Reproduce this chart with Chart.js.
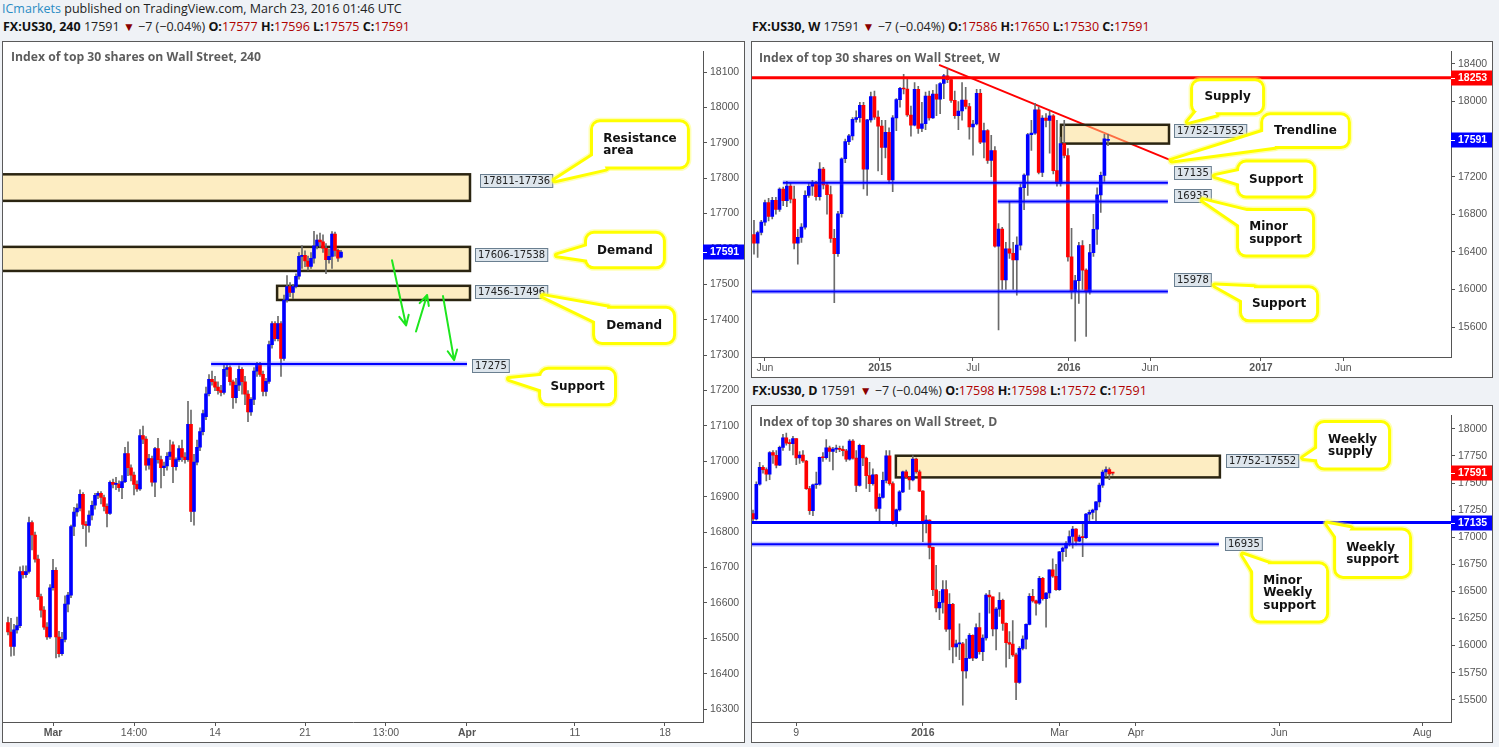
<!DOCTYPE html>
<html>
<head>
<meta charset="utf-8">
<title>US30 – 240 / W / D</title>
<script src="https://cdn.jsdelivr.net/npm/chart.js@4.4.1/dist/chart.umd.min.js"></script>
<style>
  body { margin:0; width:1499px; height:747px; background:#eff2f6; position:relative; overflow:hidden; font-family:"Open Sans","Noto Sans",sans-serif; }
  .box { position:absolute; border:1px solid #5a5a5a; background:#fff; }
  .box canvas { position:absolute; left:0; top:0; }
  .hdr { position:absolute; font-size:12.5px; line-height:16px; white-space:nowrap; color:#222; }
  .hdr b { color:#111; }
  .hdr .r { color:#b00000; }
  .hdr .tri { color:#8b0000; font-size:12px; }
  .ttl { position:absolute; font-weight:bold; font-size:12.2px; line-height:16px; color:#5d5d5d; white-space:nowrap; }
</style>
</head>
<body>

<div class="hdr" style="left:2px;top:1px"><span style="color:#2b8cc4">ICmarkets</span> published on TradingView.com, March 23, 2016 01:46 UTC</div>
<div class="hdr" style="left:3px;top:19px"><b>FX:US30, 240</b> 17591 <span class="tri">▼</span> −7 (−0.04%) <b>O:</b><span class="r">17577</span> <b>H:</b><span class="r">17596</span> <b>L:</b><span class="r">17575</span> <b>C:</b><span class="r">17591</span></div>
<div class="hdr" style="left:752px;top:19px"><b>FX:US30, W</b> 17591 <span class="tri">▼</span> −7 (−0.04%) <b>O:</b><span class="r">17586</span> <b>H:</b><span class="r">17650</span> <b>L:</b><span class="r">17530</span> <b>C:</b><span class="r">17591</span></div>
<div class="hdr" style="left:752px;top:383px"><b>FX:US30, D</b> 17591 <span class="tri">▼</span> −7 (−0.04%) <b>O:</b><span class="r">17598</span> <b>H:</b><span class="r">17598</span> <b>L:</b><span class="r">17572</span> <b>C:</b><span class="r">17591</span></div>

<div class="box" style="left:2px;top:41px;width:741px;height:700px">
  <canvas id="c4h" width="741" height="700"></canvas>
  <div class="ttl" style="left:8px;top:7px">Index of top 30 shares on Wall Street, 240</div>
</div>
<div class="box" style="left:751px;top:41px;width:740px;height:335px">
  <canvas id="cw" width="740" height="335"></canvas>
  <div class="ttl" style="left:7px;top:8px">Index of top 30 shares on Wall Street, W</div>
</div>
<div class="box" style="left:751px;top:405px;width:740px;height:336px">
  <canvas id="cd" width="740" height="336"></canvas>
  <div class="ttl" style="left:7px;top:8px">Index of top 30 shares on Wall Street, D</div>
</div>

<script>
// ---------- 240 (4 h) ----------
const h4Open = [16545,16518,16477,16524,16536,16689,16680,16689,16827,16792,
  16724,16618,16580,16532,16504,16643,16692,16504,16457,16497,
  16597,16622,16816,16857,16868,16907,16822,16819,16848,16876,
  16904,16910,16898,16873,16853,16941,16935,16936,16926,16943,
  17022,16982,16961,16935,16922,17073,17063,16989,17008,16941,
  17036,17005,16982,16987,17014,17047,16985,17005,17036,17012,
  17005,17105,16859,16998,17040,17084,17126,17191,17232,17225,
  17210,17200,17195,17260,17265,17225,17180,17215,17260,17225,
  17190,17140,17175,17255,17273,17246,17198,17226,17330,17389,
  17347,17389,17291,17456,17494,17477,17494,17523,17579,17582,
  17566,17551,17574,17609,17625,17620,17602,17570,17579,17642,
  17596,17577];
const h4High = [16560,16557,16540,16560,16702,16705,16705,16843,16832,16800,
  16735,16625,16590,16545,16652,16723,16700,16520,16517,16620,
  16630,16820,16870,16880,16920,16912,16830,16860,16888,16910,
  16915,16915,16905,16880,16945,16950,16955,16945,16960,17040,
  17055,16990,16970,16945,17090,17100,17070,17020,17015,17040,
  17065,17015,16998,17025,17060,17055,17010,17045,17060,17025,
  17170,17145,17020,17060,17095,17145,17210,17245,17255,17240,
  17225,17215,17275,17275,17270,17230,17235,17270,17265,17240,
  17200,17180,17265,17280,17280,17255,17235,17340,17395,17395,
  17410,17395,17470,17525,17505,17500,17530,17590,17610,17595,
  17580,17590,17650,17640,17645,17640,17615,17600,17649,17648,
  17600,17596];
const h4Low = [16510,16450,16452,16515,16530,16670,16672,16684,16750,16715,
  16610,16560,16525,16497,16500,16636,16445,16448,16452,16490,
  16575,16615,16790,16845,16860,16810,16760,16800,16835,16865,
  16895,16880,16860,16815,16850,16925,16920,16915,16895,16940,
  16960,16945,16905,16915,16918,17050,16975,16978,16930,16900,
  16995,16925,16960,16975,17005,16940,16975,17000,17000,16995,
  17000,16830,16820,16990,17030,17075,17118,17185,17215,17200,
  17190,17185,17190,17240,17215,17150,17165,17200,17190,17160,
  17112,17130,17160,17240,17240,17185,17185,17220,17320,17340,
  17340,17240,17285,17450,17465,17460,17490,17515,17545,17550,
  17540,17545,17560,17600,17605,17590,17530,17560,17545,17580,
  17565,17575];
const h4Close = [16518,16477,16524,16536,16689,16680,16689,16827,16792,16724,
  16618,16580,16532,16504,16643,16692,16504,16457,16497,16597,
  16622,16816,16857,16868,16907,16822,16819,16848,16876,16904,
  16910,16898,16873,16853,16941,16935,16936,16926,16943,17022,
  16982,16961,16935,16922,17073,17063,16989,17008,16941,17036,
  17005,16982,16987,17014,17026,16985,17005,17036,17012,17005,
  17105,16859,16998,17040,17084,17135,17191,17232,17225,17210,
  17200,17195,17260,17265,17225,17180,17215,17260,17225,17190,
  17140,17175,17255,17273,17246,17198,17226,17330,17389,17347,
  17389,17291,17456,17494,17477,17494,17523,17579,17582,17566,
  17551,17574,17609,17625,17620,17602,17570,17579,17642,17596,
  17574,17591];
const h4TickPos = [15, 42, 69, 99, 126, 153, 189, 219];
const h4TickText = ['Mar', '14:00', '14', '21', '13:00', 'Apr', '11', '18'];
const h4BoldTicks = [15, 153];
const h4PriceTicks = [16300,16400,16500,16600,16700,16800,16900,17000,17100,17200,
  17300,17400,17500,17600,17700,17800,17900,18000,18100];

// ---------- weekly ----------
const wOpen = [16583,16491,16606,16717,16924,16776,16947,16851,17068,16944,
  17100,16961,16493,16554,16663,17001,17098,17137,16988,17280,
  17113,17009,16544,16380,16805,17391,17573,17634,17810,17828,
  17958,17281,17805,18053,17833,17737,17512,17673,17165,17825,
  18019,18140,18133,17856,17749,18128,17713,17763,18058,17826,
  18080,18024,18191,18272,18232,18011,17849,17899,18015,17947,
  17730,17760,18086,17568,17690,17373,17477,16460,16643,16102,
  16433,16385,16315,16472,17084,17216,17647,17664,17910,17245,
  17824,17798,17848,17265,17128,17553,17425,16346,15988,16094,
  16466,16205,15974,16392,16640,17007,17213,17586];
const wHigh = [16735,16620,16735,16950,16970,16980,16980,17080,17090,17150,
  17130,17100,16640,16700,17050,17130,17160,17150,17350,17300,
  17140,17100,16640,16830,17400,17600,17650,17830,17900,17990,
  17990,17810,18100,18110,17900,17800,17800,17720,17850,18030,
  18150,18290,18250,17950,18200,18160,17990,18100,18110,18120,
  18180,18200,18290,18350,18250,18110,18000,18200,18150,17980,
  17800,18130,18130,17770,17700,17640,17520,16700,16660,16500,
  16930,16500,16560,17120,17230,17660,17800,17980,17940,17850,
  17870,17900,17860,17800,17620,17800,17500,16650,16150,16500,
  16520,16220,16480,16800,17080,17250,17650,17650];
const wLow = [16375,16340,16580,16680,16730,16750,16800,16830,16890,16880,
  16920,16430,16270,16500,16640,16980,17000,16950,16950,17070,
  16800,16500,15860,16350,16770,17350,17540,17590,17780,17780,
  17070,17000,17780,17810,17260,17220,17400,17130,17040,17690,
  17940,18080,17840,17630,17740,17660,17680,17700,17800,17820,
  17850,17870,18030,18200,17990,17820,17700,17800,17920,17600,
  17430,17750,17550,17400,17340,17200,16450,15570,16000,16000,
  16330,16000,15940,16420,16850,17000,17480,17650,17230,17200,
  17730,17450,17230,17100,17100,17400,16300,15900,15450,15850,
  16000,15500,15950,16350,16480,16820,17150,17530];
const wClose = [16491,16606,16717,16924,16776,16947,16851,17068,16944,17100,
  16961,16493,16554,16663,17001,17098,17137,16988,17280,17113,
  17009,16544,16380,16805,17391,17573,17634,17810,17828,17958,
  17281,17805,18053,17833,17737,17512,17673,17165,17825,18019,
  18140,18133,17856,17749,18128,17713,17763,18058,17826,18080,
  18024,18191,18272,18232,18011,17849,17899,18015,17947,17730,
  17760,18086,17568,17690,17373,17477,16460,16643,16102,16433,
  16385,16315,16472,17084,17216,17647,17664,17910,17245,17824,
  17798,17848,17265,17128,17553,17425,16346,15988,16094,16466,
  16205,15974,16392,16640,17007,17213,17602,17591];
const wTickPos = [3, 34.5, 60, 86.3, 108.5, 138.9, 161.4];
const wTickText = ['Jun', '2015', 'Jul', '2016', 'Jun', '2017', 'Jun'];
const wBoldTicks = [34.5, 86.3, 138.9];
const wPriceTicks = [15600, 16000, 16400, 16800, 17200, 17600, 18000, 18400];

// ---------- daily ----------
const dOpen = [17217,17169,17489,17646,17623,17581,17780,17756,17664,17829,
  17918,17868,17864,17910,17731,17758,17703,17449,17245,17484,
  17490,17738,17733,17824,17792,17813,17814,17810,17798,17720,
  17888,17730,17478,17848,17731,17569,17493,17575,17265,17368,
  17525,17750,17495,17128,17252,17418,17603,17553,17528,17721,
  17604,17425,17149,17159,16907,16515,16347,16399,16517,16152,
  16380,15988,16016,16016,15767,15883,16094,15886,16167,15945,
  16070,16466,16449,16154,16337,16417,16205,16027,16014,15915,
  15660,15974,16060,16196,16454,16413,16392,16620,16432,16485,
  16698,16640,16517,16866,16900,16944,17007,17074,16964,17001,
  16996,17213,17230,17251,17326,17481,17602,17624,17598];
const dHigh = [17250,17510,17690,17660,17640,17790,17800,17800,17840,17950,
  17960,17900,17930,17910,17790,17800,17710,17470,17490,17600,
  17740,17780,17900,17840,17830,17850,17840,17840,17810,17900,
  17900,17800,17860,17850,17740,17690,17630,17580,17400,17600,
  17800,17800,17510,17260,17430,17610,17620,17560,17750,17730,
  17620,17430,17200,17160,16910,16740,16500,16600,16600,16480,
  16390,16050,16200,16030,16060,16110,16100,16200,16300,16100,
  16480,16510,16450,16350,16490,16430,16210,16130,16230,15930,
  15990,16090,16200,16480,16520,16420,16640,16630,16490,16700,
  16800,16750,16870,16910,16960,17060,17100,17080,17020,17130,
  17220,17250,17260,17330,17500,17620,17650,17640,17598];
const dLow = [17140,17160,17480,17590,17520,17530,17680,17640,17660,17800,
  17850,17800,17760,17670,17680,17690,17440,17210,17200,17450,
  17480,17700,17720,17700,17620,17780,17790,17750,17700,17710,
  17720,17420,17470,17660,17450,17420,17480,17240,17140,17360,
  17500,17480,17120,17100,17240,17410,17540,17440,17520,17590,
  17420,16960,17040,16800,16460,16310,16240,16300,16130,15960,
  15840,15900,15870,15450,15700,15880,15860,15880,15920,15860,
  16050,16300,16090,15960,16270,16140,15800,15880,15900,15500,
  15650,15960,15970,16190,16400,16280,16380,16420,16170,16440,
  16630,16510,16510,16780,16820,16920,16900,16930,16960,16820,
  16990,17150,17170,17150,17280,17460,17560,17530,17572];
const dClose = [17169,17489,17646,17623,17581,17780,17756,17664,17829,17918,
  17868,17864,17910,17731,17758,17703,17449,17245,17484,17490,
  17738,17733,17824,17792,17813,17814,17810,17798,17720,17888,
  17730,17478,17848,17731,17569,17493,17575,17265,17368,17525,
  17750,17495,17128,17252,17418,17603,17553,17528,17721,17604,
  17425,17149,17159,16907,16515,16347,16399,16517,16152,16380,
  15988,16016,16016,15767,15883,16094,15886,16167,15945,16070,
  16466,16449,16154,16337,16417,16205,16027,16014,15915,15660,
  15974,16060,16196,16454,16413,16392,16620,16432,16485,16698,
  16640,16517,16866,16900,16944,17007,17074,16964,17001,16996,
  17213,17230,17251,17326,17481,17602,17624,17583,17591];
const dTickPos = [13, 51, 92, 115, 158, 201];
const dTickText = ['9', '2016', 'Mar', 'Apr', 'Jun', 'Aug'];
const dBoldTicks = [51];
const dPriceTicks = [15500,15750,16000,16250,16500,16750,17000,17250,17500,17750,18000];

// ---------- drawings (all in candle-index / price units) ----------
const h4Marks = {
  zones: [
    {x1: -3, x2: 154, top: 17811, bot: 17736},
    {x1: -3, x2: 154, top: 17606, bot: 17538},
    {x1: 89.7, x2: 154, top: 17496, bot: 17456}
  ],
  hlines: [{y: 17275, x1: 67.7, x2: 153, color: '#0000ff', width: 2, halo: true}],
  arrows: [[128, 17568, 132.7, 17384], [136, 17367, 139.7, 17470], [145, 17467, 148.7, 17286]],
  labels: [
    {text: '17811-17736', x: 157.3, y: 17791},
    {text: '17606-17538', x: 155.7, y: 17583},
    {text: '17456-17496', x: 155.7, y: 17479},
    {text: '17275', x: 154.7, y: 17270}
  ],
  callouts: [
    {lines: ['Resistance', 'area'], x1: 195, x2: 226.3, y1: 17958, y2: 17833, tx: 182.3, ty: 17794},
    {lines: ['Demand'], x1: 193, x2: 218.3, y1: 17643, y2: 17551, tx: 183, ty: 17582},
    {lines: ['Demand'], x1: 195.7, x2: 221.7, y1: 17431, y2: 17337, tx: 178.3, ty: 17467},
    {lines: ['Support'], x1: 177.7, x2: 202, y1: 17259, y2: 17164, tx: 167, ty: 17233}
  ],
  tags: [{y: 17591, color: '#0000ff'}]
};

const wMarks = {
  trends: [{x1: 50.7, y1: 18390, x2: 115.1, y2: 17360, color: '#ff0000', width: 2}],
  zones: [{x1: 84.1, x2: 113.7, top: 17752, bot: 17552}],
  hlines: [
    {y: 18253, color: '#ff0000', width: 3},
    {y: 17135, x1: 7.9, x2: 113.4, color: '#0000ff', width: 2, halo: true},
    {y: 16935, x1: 66.8, x2: 113.4, color: '#0000ff', width: 2, halo: true},
    {y: 15978, x2: 113.4, color: '#0000ff', width: 2, halo: true}
  ],
  labels: [
    {text: '17752-17552', x: 115.1, y: 17685},
    {text: '17135', x: 115.1, y: 17237},
    {text: '16935', x: 115.1, y: 16990},
    {text: '15978', x: 115.1, y: 16099}
  ],
  callouts: [
    {lines: ['Supply'], x1: 120.3, x2: 139.2, y1: 18215, y2: 17885, tx: 118.9, ty: 17782},
    {lines: ['Trendline'], x1: 139.5, x2: 162.7, y1: 17854, y2: 17525, tx: 114.5, ty: 17371},
    {lines: ['Support'], x1: 132.9, x2: 153.2, y1: 17350, y2: 17000, tx: 126.3, ty: 17206},
    {lines: ['Minor', 'support'], x1: 132.9, x2: 152.9, y1: 16835, y2: 16372, tx: 123, ty: 16948},
    {lines: ['Support'], x1: 133.7, x2: 154, y1: 16012, y2: 15682, tx: 126.3, ty: 16043}
  ],
  tags: [{y: 18253, color: '#ff0000'}, {y: 17591, color: '#0000ff'}]
};

const dMarks = {
  zones: [{x1: 42.9, x2: 140.2, top: 17752, bot: 17552}],
  hlines: [
    {y: 17135, color: '#0000ff', width: 3},
    {y: 16935, x2: 139.9, color: '#0000ff', width: 2, halo: true}
  ],
  labels: [
    {text: '17752-17552', x: 142, y: 17705},
    {text: '16935', x: 141.7, y: 16937}
  ],
  callouts: [
    {lines: ['Weekly', 'supply'], x1: 169.4, x2: 190.7, y1: 18054, y2: 17643, tx: 165.2, ty: 17732},
    {lines: ['Weekly', 'support'], x1: 175.1, x2: 197, y1: 17063, y2: 16643, tx: 172.4, ty: 17125},
    {lines: ['Minor', 'Weekly', 'support'], x1: 150.2, x2: 172.1, y1: 16750, y2: 16232, tx: 147.1, ty: 16839}
  ],
  tags: [{y: 17591, color: '#ff0000'}, {y: 17135, color: '#0000ff'}]
};

// ---------- helpers ----------
function roundRectPath(ctx, x, y, w, h, r) {
  ctx.moveTo(x + r, y);
  ctx.arcTo(x + w, y, x + w, y + h, r);
  ctx.arcTo(x + w, y + h, x, y + h, r);
  ctx.arcTo(x, y + h, x, y, r);
  ctx.arcTo(x, y, x + w, y, r);
  ctx.closePath();
}

function drawCallout(ctx, sx, sy, c) {
  const x1 = sx.getPixelForValue(c.x1), x2 = sx.getPixelForValue(c.x2);
  const y1 = sy.getPixelForValue(c.y1), y2 = sy.getPixelForValue(c.y2);
  const tx = sx.getPixelForValue(c.tx), ty = sy.getPixelForValue(c.ty);
  const w = x2 - x1, h = y2 - y1, cx = x1 + w / 2, cy = y1 + h / 2;
  const dx = tx - cx, dy = ty - cy, len = Math.hypot(dx, dy);
  const ux = dx / len, uy = dy / len;
  const s = Math.min(Math.abs(w / 2 / (dx || 1e-9)), Math.abs(h / 2 / (dy || 1e-9)));
  const ex = cx + dx * s - ux * 10, ey = cy + dy * s - uy * 10;
  const half = Math.min(9, h * 0.3);
  const tail = [[ex - uy * half, ey + ux * half], [tx, ty], [ex + uy * half, ey - ux * half]];
  const boxPath = () => { ctx.beginPath(); roundRectPath(ctx, x1, y1, w, h, 7); };
  const tailPath = () => {
    ctx.beginPath(); ctx.moveTo(tail[0][0], tail[0][1]);
    ctx.lineTo(tail[1][0], tail[1][1]); ctx.lineTo(tail[2][0], tail[2][1]); ctx.closePath();
  };
  ctx.lineJoin = 'round';
  [['rgba(255,255,90,0.45)', 9], ['#ffff00', 6]].forEach(([col, lw]) => {
    ctx.strokeStyle = col; ctx.lineWidth = lw;
    boxPath(); ctx.stroke(); tailPath(); ctx.stroke();
  });
  ctx.fillStyle = '#ffffff';
  boxPath(); ctx.fill(); tailPath(); ctx.fill();
  ctx.font = 'bold 12px "DejaVu Sans"';
  ctx.fillStyle = '#111';
  ctx.textBaseline = 'middle';
  ctx.textAlign = 'left';
  const lh = 12.5;
  const maxW = Math.max(...c.lines.map(t => ctx.measureText(t).width));
  const startY = cy - (c.lines.length - 1) * lh / 2;
  c.lines.forEach((t, i) => ctx.fillText(t, cx - maxW / 2, startY + i * lh + 0.5));
}

function marksPlugin(m) {
  return {
    id: 'marks',
    beforeDatasetsDraw(chart) {
      const {ctx, chartArea: a} = chart;
      const sx = chart.scales.x, sy = chart.scales.y;
      ctx.save();
      ctx.beginPath(); ctx.rect(a.left, a.top, a.right - a.left, a.bottom - a.top); ctx.clip();
      (m.trends || []).forEach(t => {
        ctx.strokeStyle = t.color; ctx.lineWidth = t.width;
        ctx.beginPath();
        ctx.moveTo(sx.getPixelForValue(t.x1), sy.getPixelForValue(t.y1));
        ctx.lineTo(sx.getPixelForValue(t.x2), sy.getPixelForValue(t.y2));
        ctx.stroke();
      });
      (m.zones || []).forEach(z => {
        const x1 = sx.getPixelForValue(z.x1), x2 = sx.getPixelForValue(z.x2);
        const y1 = sy.getPixelForValue(z.top), y2 = sy.getPixelForValue(z.bot);
        ctx.fillStyle = 'rgba(251,219,133,0.5)';
        ctx.fillRect(x1, y1, x2 - x1, y2 - y1);
        ctx.strokeStyle = '#2b2511'; ctx.lineWidth = 2.5;
        ctx.strokeRect(x1, y1, x2 - x1, y2 - y1);
      });
      ctx.restore();
    },
    afterDatasetsDraw(chart) {
      const {ctx, chartArea: a} = chart;
      const sx = chart.scales.x, sy = chart.scales.y;
      ctx.save();
      ctx.beginPath(); ctx.rect(a.left, a.top, a.right - a.left, a.bottom - a.top); ctx.clip();
      (m.hlines || []).forEach(l => {
        const x1 = l.x1 === undefined ? a.left : sx.getPixelForValue(l.x1);
        const x2 = l.x2 === undefined ? a.right : sx.getPixelForValue(l.x2);
        const py = sy.getPixelForValue(l.y);
        if (l.halo) {
          ctx.strokeStyle = 'rgba(60,60,255,0.3)'; ctx.lineWidth = l.width + 3;
          ctx.beginPath(); ctx.moveTo(x1, py); ctx.lineTo(x2, py); ctx.stroke();
        }
        ctx.strokeStyle = l.color; ctx.lineWidth = l.width;
        ctx.beginPath(); ctx.moveTo(x1, py); ctx.lineTo(x2, py); ctx.stroke();
      });
      (m.arrows || []).forEach(([ax, ay, bx, by]) => {
        const x1 = sx.getPixelForValue(ax), y1 = sy.getPixelForValue(ay);
        const x2 = sx.getPixelForValue(bx), y2 = sy.getPixelForValue(by);
        const ang = Math.atan2(y2 - y1, x2 - x1);
        ctx.strokeStyle = '#1ee61e'; ctx.lineWidth = 2; ctx.lineCap = 'round';
        ctx.beginPath(); ctx.moveTo(x1, y1); ctx.lineTo(x2, y2);
        [-0.45, 0.45].forEach(d => {
          ctx.moveTo(x2, y2);
          ctx.lineTo(x2 - 11 * Math.cos(ang + d), y2 - 11 * Math.sin(ang + d));
        });
        ctx.stroke();
      });
      (m.labels || []).forEach(l => {
        ctx.font = '10px "DejaVu Sans"';
        const w = ctx.measureText(l.text).width + 6;
        const px = Math.round(sx.getPixelForValue(l.x)), py = Math.round(sy.getPixelForValue(l.y));
        ctx.fillStyle = '#dde5ec'; ctx.fillRect(px, py - 7, w, 14);
        ctx.strokeStyle = '#6a7f90'; ctx.lineWidth = 1; ctx.strokeRect(px + 0.5, py - 6.5, w - 1, 13);
        ctx.fillStyle = '#222'; ctx.textBaseline = 'middle'; ctx.textAlign = 'left';
        ctx.fillText(l.text, px + 3, py + 0.5);
      });
      (m.callouts || []).forEach(c => drawCallout(ctx, sx, sy, c));
      ctx.restore();
      (m.tags || []).forEach(t => {
        const py = Math.round(sy.getPixelForValue(t.y));
        ctx.fillStyle = t.color;
        ctx.fillRect(a.right, py - 7.5, chart.width - a.right, 15);
        ctx.fillStyle = '#fff';
        ctx.fillRect(a.right, py, 4, 1);
        ctx.font = 'bold 10.5px "Liberation Sans"';
        ctx.textBaseline = 'middle'; ctx.textAlign = 'left';
        ctx.fillText(String(t.y), a.right + 7, py + 0.5);
      });
    }
  };
}

function candleChart(id, o, h, l, c, xRange, yRange, tickPos, tickText, boldTicks, priceTicks, marks) {
  const wicks = o.map((v, i) => ({x: i, y: [l[i], h[i]]}));
  const bodies = o.map((v, i) => ({x: i, y: [v, c[i]]}));
  const colors = o.map((v, i) => (c[i] >= v ? '#0000ff' : '#ff0000'));
  return new Chart(document.getElementById(id), {
    type: 'bar',
    data: {
      datasets: [
        {data: wicks, backgroundColor: '#6b6b6b', barThickness: 1, maxBarThickness: 1, grouped: false, order: 2},
        {data: bodies, backgroundColor: colors, barThickness: 3, maxBarThickness: 3, grouped: false, order: 1, minBarLength: 1}
      ]
    },
    options: {
      responsive: false,
      animation: false,
      events: [],
      layout: {padding: 0},
      plugins: {legend: {display: false}, tooltip: {enabled: false}},
      scales: {
        x: {
          type: 'linear', min: xRange[0], max: xRange[1], bounds: 'data', offset: false,
          grid: {offset: false, drawOnChartArea: false, tickLength: 4, color: '#555'},
          border: {color: '#555'},
          ticks: {
            autoSkip: false, maxRotation: 0, padding: 1, color: '#555',
            font: ctx => ({family: '"Liberation Sans"', size: 10.5,
              weight: ctx.tick && boldTicks.includes(ctx.tick.value) ? 'bold' : 'normal'}),
            callback: (v, i) => tickText[i]
          },
          afterBuildTicks: s => { s.ticks = tickPos.map(v => ({value: v})); },
          afterFit: s => { s.height = 20; }
        },
        y: {
          type: 'linear', position: 'right', min: yRange[0], max: yRange[1], bounds: 'data',
          grid: {drawOnChartArea: false, tickLength: 4, color: '#555'},
          border: {color: '#555'},
          ticks: {autoSkip: false, padding: 3, color: '#555',
            font: {family: '"Liberation Sans"', size: 10.5}, callback: v => String(v)},
          afterBuildTicks: s => { s.ticks = priceTicks.map(v => ({value: v})); },
          afterFit: s => { s.width = 41; }
        }
      }
    },
    plugins: [marksPlugin(marks)]
  });
}

candleChart('c4h', h4Open, h4High, h4Low, h4Close, [-1.667, 231.667], [16263.8, 18158.5],
  h4TickPos, h4TickText, h4BoldTicks, h4PriceTicks, h4Marks);
candleChart('cw', wOpen, wHigh, wLow, wClose, [-0.548, 190.96], [15281, 18534],
  wTickPos, wTickText, wBoldTicks, wPriceTicks, wMarks);
candleChart('cd', dOpen, dHigh, dLow, dClose, [-0.3, 209.6], [15295, 18125],
  dTickPos, dTickText, dBoldTicks, dPriceTicks, dMarks);
</script>
</body>
</html>
